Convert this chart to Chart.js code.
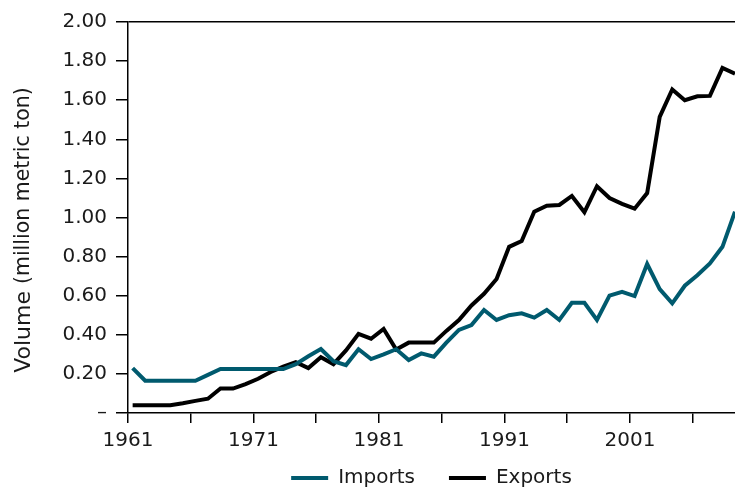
<!DOCTYPE html>
<html>
<head>
<meta charset="utf-8">
<script src="https://cdn.jsdelivr.net/npm/chart.js@4.4.1/dist/chart.umd.min.js"></script>
<style>
  html, body { margin: 0; padding: 0; background: #ffffff; }
  #wrap { width: 735px; height: 488px; }
</style>
</head>
<body>
<div id="wrap"><canvas id="c" width="735" height="488"></canvas></div>
<script>
// ---- data ----
const years = [1961,1962,1963,1964,1965,1966,1967,1968,1969,1970,
               1971,1972,1973,1974,1975,1976,1977,1978,1979,1980,
               1981,1982,1983,1984,1985,1986,1987,1988,1989,1990,
               1991,1992,1993,1994,1995,1996,1997,1998,1999,2000,
               2001,2002,2003,2004,2005,2006,2007,2008,2009];

const importsVol = [0.23,0.165,0.165,0.165,0.165,0.165,0.195,0.225,0.225,0.225,
                    0.225,0.225,0.225,0.25,0.29,0.327,0.265,0.245,0.326,0.276,
                    0.30,0.326,0.271,0.305,0.288,0.36,0.425,0.45,0.527,0.476,
                    0.50,0.51,0.488,0.527,0.476,0.564,0.564,0.476,0.60,0.62,
                    0.598,0.762,0.634,0.561,0.651,0.705,0.765,0.85,1.03];

const exportsVol = [0.04,0.04,0.04,0.04,0.05,0.062,0.073,0.125,0.125,0.148,
                    0.175,0.21,0.237,0.26,0.23,0.285,0.25,0.32,0.405,0.38,
                    0.43,0.325,0.36,0.36,0.36,0.42,0.475,0.55,0.61,0.685,
                    0.85,0.88,1.03,1.06,1.064,1.11,1.027,1.16,1.10,1.07,
                    1.045,1.125,1.515,1.655,1.60,1.62,1.622,1.765,1.735];

const xTickYears  = [1961,1966,1971,1976,1981,1986,1991,1996,2001,2006];
const xTickLabels = ['1961','','1971','','1981','','1991','','2001',''];
const yTickValues = [0,0.2,0.4,0.6,0.8,1.0,1.2,1.4,1.6,1.8,2.0];

const seriesNames = ['Imports','Exports'];
// ---------------------------------------------------

const TICK_SHIFT = 0.37;          // tick marks sit slightly left of the yearly points
const FONT = '"DejaVu Sans", sans-serif';
const TEXT = '#1a1a1a';
const LEGEND_FONT = 20;
const LEGEND_PAD = 34;
const LEGEND_TEXT_Y = 478;

const yTitlePlugin = {
  id: 'yTitle',
  afterDraw(chart) {
    const ctx = chart.ctx;
    ctx.save();
    ctx.translate(24, 230);
    ctx.rotate(-Math.PI / 2);
    ctx.textBaseline = 'middle';
    ctx.textAlign = 'left';
    ctx.fillStyle = TEXT;
    const f1 = '22px ' + FONT, f2 = '20.5px ' + FONT;
    const t1 = 'Volume ', t2 = '(million metric ton)';
    ctx.font = f1; const w1 = ctx.measureText(t1).width;
    ctx.font = f2; const w2 = ctx.measureText(t2).width;
    const x0 = -(w1 + w2) / 2;
    ctx.font = f1; ctx.fillText(t1, x0, 0);
    ctx.font = f2; ctx.fillText(t2, x0 + w1, 0);
    ctx.restore();
  }
};

const legendPlacePlugin = {
  id: 'legendPlace',
  afterInit(chart) {
    const lg = chart.legend;
    if (!lg) return;
    const origFit = lg.fit;
    lg.fit = function () { origFit.call(this); this.height = 30; };
    lg.draw = function () {
      if (!this.options.display) return;
      const t = this.top, b = this.bottom;
      this.top = LEGEND_TEXT_Y - LEGEND_PAD - LEGEND_FONT / 2;
      this.bottom = chart.height;
      this._draw();
      this.top = t; this.bottom = b;
    };
  }
};

new Chart(document.getElementById('c'), {
  type: 'line',
  data: {
    datasets: [
      {
        label: seriesNames[0],
        data: years.map((y, i) => ({ x: y, y: importsVol[i] })),
        borderColor: '#005a6e',
        backgroundColor: '#005a6e',
        borderWidth: 4,
        pointRadius: 0,
        tension: 0,
        borderJoinStyle: 'miter'
      },
      {
        label: seriesNames[1],
        data: years.map((y, i) => ({ x: y, y: exportsVol[i] })),
        borderColor: '#000000',
        backgroundColor: '#000000',
        borderWidth: 4,
        pointRadius: 0,
        tension: 0,
        borderJoinStyle: 'miter'
      }
    ]
  },
  options: {
    responsive: false,
    animation: false,
    devicePixelRatio: 1,
    layout: { padding: { top: 22, left: 0, right: 0, bottom: 0 } },
    plugins: {
      legend: {
        position: 'bottom',
        fullSize: false,
        labels: {
          usePointStyle: true,
          pointStyle: 'line',
          pointStyleWidth: 37,
          padding: LEGEND_PAD,
          color: TEXT,
          font: { family: FONT, size: LEGEND_FONT }
        }
      },
      tooltip: { enabled: false }
    },
    scales: {
      x: {
        type: 'linear',
        min: years[0] - TICK_SHIFT,
        max: years[years.length - 1],
        afterBuildTicks: s => { s.ticks = xTickYears.map(v => ({ value: v - TICK_SHIFT })); },
        afterFit: s => { s.height = 45; },
        ticks: {
          autoSkip: false,
          maxRotation: 0,
          padding: 6,
          color: TEXT,
          font: { family: FONT, size: 20 },
          callback: (v, i) => xTickLabels[i]
        },
        grid: { drawOnChartArea: false, tickLength: 10, tickColor: '#000', lineWidth: 1.5 },
        border: { color: '#000', width: 1.5 }
      },
      y: {
        min: 0,
        max: 2,
        afterBuildTicks: s => { s.ticks = yTickValues.map(v => ({ value: v })); },
        afterFit: s => { s.width = 128; },
        ticks: {
          padding: 9,
          color: TEXT,
          font: { family: FONT, size: 20 },
          callback: v => (v === 0 ? '\u2013' : Number(v).toFixed(2))
        },
        grid: {
          drawOnChartArea: true,
          color: c => (c.tick && Math.abs(c.tick.value - 2) < 1e-9 ? '#000' : 'rgba(0,0,0,0)'),
          tickColor: '#000',
          tickLength: 12,
          lineWidth: 1.5
        },
        border: { color: '#000', width: 1.5 }
      }
    }
  },
  plugins: [yTitlePlugin, legendPlacePlugin]
});
</script>
</body>
</html>
